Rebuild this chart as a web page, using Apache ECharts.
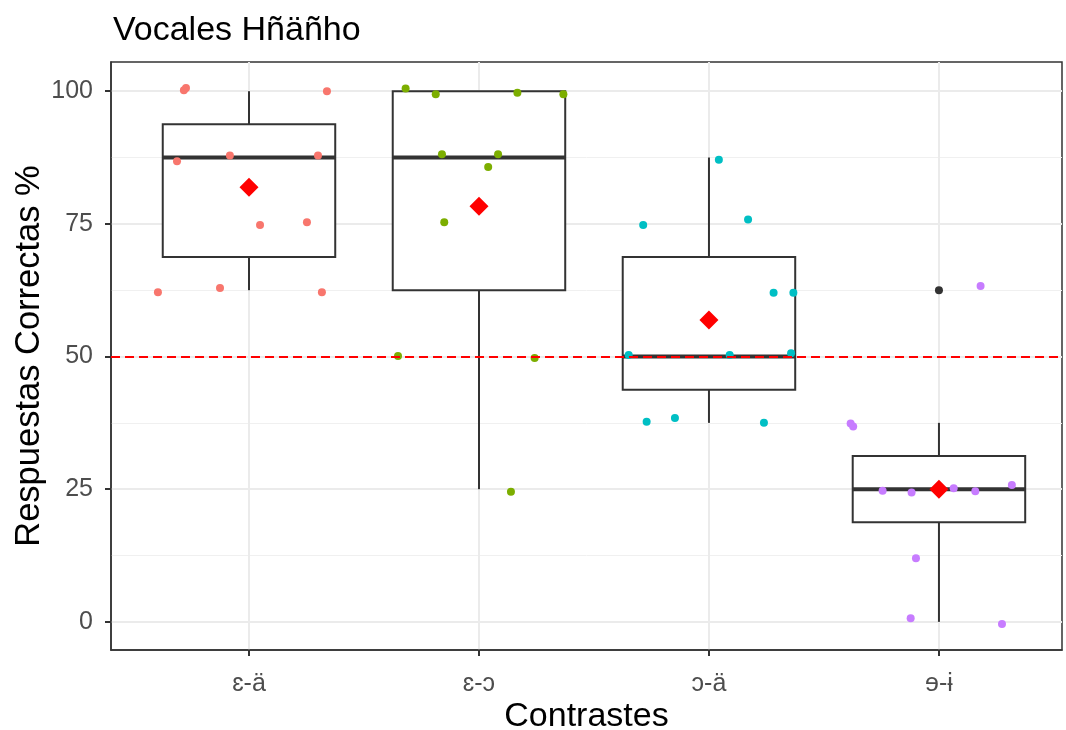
<!DOCTYPE html>
<html>
<head>
<meta charset="utf-8">
<script src="https://cdn.jsdelivr.net/npm/echarts@6/dist/echarts.min.js"></script>
<style>
  html, body { margin: 0; padding: 0; background: #fff; }
  #chart { width: 1066px; height: 730px; }
</style>
</head>
<body>
<div id="chart"></div>
<script>
// categorías del eje x
const categories = ['ɛ-ä', 'ɛ-ɔ', 'ɔ-ä', 'ɘ-ɨ']
const xTicks = [1, 2, 3, 4]
const yTicks = [0, 25, 50, 75, 100]
const yMinorTicks = [12.5, 37.5, 62.5, 87.5]
const chanceLevel = 50

// cajas: [min, Q1, mediana, Q3, max]
const boxStats = [
  [62.5, 68.75, 87.5, 93.75, 100],
  [25, 62.5, 87.5, 100, 100],
  [37.5, 43.75, 50, 68.75, 87.5],
  [0, 18.75, 25, 31.25, 37.5]
]
const means = [81.9, 78.3, 56.9, 25.0]
const outliers = [[4, 62.5]]

// puntos con jitter [x, y]
const pointsA = [
  [0.717, 100.2], [0.726, 100.6], [1.339, 100.0], [0.687, 86.8], [0.917, 87.9],
  [1.300, 87.9], [1.048, 74.8], [1.252, 75.3], [0.604, 62.1], [0.874, 62.9], [1.317, 62.1]
]
const pointsB = [
  [1.681, 100.5], [1.812, 99.4], [2.167, 99.7], [2.367, 99.4], [1.839, 88.1],
  [2.083, 88.1], [2.040, 85.7], [1.849, 75.3], [1.648, 50.1], [2.242, 49.7], [2.139, 24.5]
]
const pointsC = [
  [3.043, 87.1], [2.714, 74.8], [3.170, 75.8], [3.281, 62.0], [3.367, 62.0],
  [2.651, 50.3], [3.090, 50.3], [3.357, 50.6], [2.729, 37.7], [2.852, 38.4], [3.239, 37.5]
]
const pointsD = [
  [4.181, 63.3], [3.616, 37.4], [3.627, 36.8], [3.755, 24.7], [3.881, 24.4],
  [4.064, 25.2], [4.158, 24.6], [4.317, 25.8], [3.900, 12.0], [3.877, 0.7], [4.274, -0.4]
]
const groupPoints = [pointsA, pointsB, pointsC, pointsD]
const groupColors = ['#F8766D', '#7CAE00', '#00BFC4', '#C77CFF']

const font = '"Liberation Sans", "DejaVu Sans", Arial, sans-serif'
const chart = echarts.init(document.getElementById('chart'))

const renderBox = (params, api) => {
  const x = api.value(0)
  const lo = api.coord([x, api.value(1)])
  const q1 = api.coord([x, api.value(2)])
  const med = api.coord([x, api.value(3)])
  const q3 = api.coord([x, api.value(4)])
  const hi = api.coord([x, api.value(5)])
  const half = api.size([0.75, 0])[0] / 2
  const stroke = { stroke: '#333333', lineWidth: 2 }
  return {
    type: 'group',
    children: [
      { type: 'line', shape: { x1: hi[0], y1: hi[1], x2: q3[0], y2: q3[1] }, style: stroke },
      { type: 'line', shape: { x1: q1[0], y1: q1[1], x2: lo[0], y2: lo[1] }, style: stroke },
      {
        type: 'rect',
        shape: { x: q3[0] - half, y: q3[1], width: half * 2, height: q1[1] - q3[1] },
        style: { fill: '#ffffff', stroke: '#333333', lineWidth: 2 }
      },
      {
        type: 'line',
        shape: { x1: med[0] - half, y1: med[1], x2: med[0] + half, y2: med[1] },
        style: { stroke: '#333333', lineWidth: 4 }
      }
    ]
  }
}

const series = [
  {
    type: 'custom',
    z: 2,
    renderItem: renderBox,
    data: boxStats.map((s, i) => [i + 1, ...s])
  },
  {
    type: 'scatter',
    z: 2,
    symbolSize: 8,
    itemStyle: { color: '#333333', opacity: 1 },
    data: outliers
  },
  {
    type: 'line',
    z: 3,
    data: [],
    markLine: {
      silent: true,
      symbol: 'none',
      label: { show: false },
      lineStyle: { color: '#FF0000', type: [9, 5], width: 2 },
      data: [{ yAxis: chanceLevel }]
    }
  }
]

groupPoints.forEach((pts, i) => {
  series.push({
    type: 'scatter',
    z: 4,
    symbolSize: 8,
    itemStyle: { color: groupColors[i], opacity: 1 },
    data: pts
  })
})

series.push({
  type: 'scatter',
  z: 5,
  symbol: 'diamond',
  symbolSize: 19,
  itemStyle: { color: '#FF0000', opacity: 1 },
  data: means.map((m, i) => [i + 1, m])
})

chart.setOption({
  animation: false,
  title: {
    text: 'Vocales Hñäñho',
    left: 108,
    top: 9,
    textStyle: { fontFamily: font, fontSize: 34, fontWeight: 'normal', color: '#000' }
  },
  grid: {
    left: 111,
    right: 4,
    top: 62,
    bottom: 80,
    containLabel: false,
    outerBoundsMode: 'none',
    show: true,
    borderColor: '#333333',
    borderWidth: 1.5,
    backgroundColor: 'transparent'
  },
  xAxis: {
    type: 'value',
    min: 0.4,
    max: 4.535,
    name: 'Contrastes',
    nameLocation: 'middle',
    nameGap: 50,
    nameMoveOverlap: false,
    nameTextStyle: { fontFamily: font, fontSize: 34, color: '#000' },
    axisLine: { show: true, onZero: false, lineStyle: { color: '#333333', width: 1.5 } },
    axisTick: { show: true, length: 6, lineStyle: { color: '#333333', width: 2 }, customValues: xTicks },
    axisLabel: {
      margin: 22,
      fontFamily: font,
      fontSize: 25,
      color: '#4D4D4D',
      customValues: xTicks,
      formatter: v => categories[Math.round(v) - 1]
    },
    splitLine: { show: true, lineStyle: { color: '#EBEBEB', width: 2 } }
  },
  yAxis: [
    {
      type: 'value',
      min: -5.3,
      max: 105.5,
      name: 'Respuestas Correctas %',
      nameLocation: 'middle',
      nameGap: 64,
      nameMoveOverlap: false,
      nameTextStyle: { fontFamily: font, fontSize: 34.5, color: '#000' },
      axisLine: { show: true, onZero: false, lineStyle: { color: '#333333', width: 1.5 } },
      axisTick: { show: true, length: 6, lineStyle: { color: '#333333', width: 2 }, customValues: yTicks },
      axisLabel: { margin: 18, fontFamily: font, fontSize: 25, color: '#4D4D4D', customValues: yTicks },
      splitLine: { show: true, lineStyle: { color: '#EBEBEB', width: 2 } }
    },
    {
      type: 'value',
      min: -5.3,
      max: 105.5,
      axisLine: { show: false, onZero: false },
      axisTick: { show: false, customValues: yMinorTicks },
      axisLabel: { show: false, customValues: yMinorTicks },
      splitLine: { show: true, lineStyle: { color: '#F0F0F0', width: 1 } }
    }
  ],
  series: series
})
</script>
</body>
</html>
